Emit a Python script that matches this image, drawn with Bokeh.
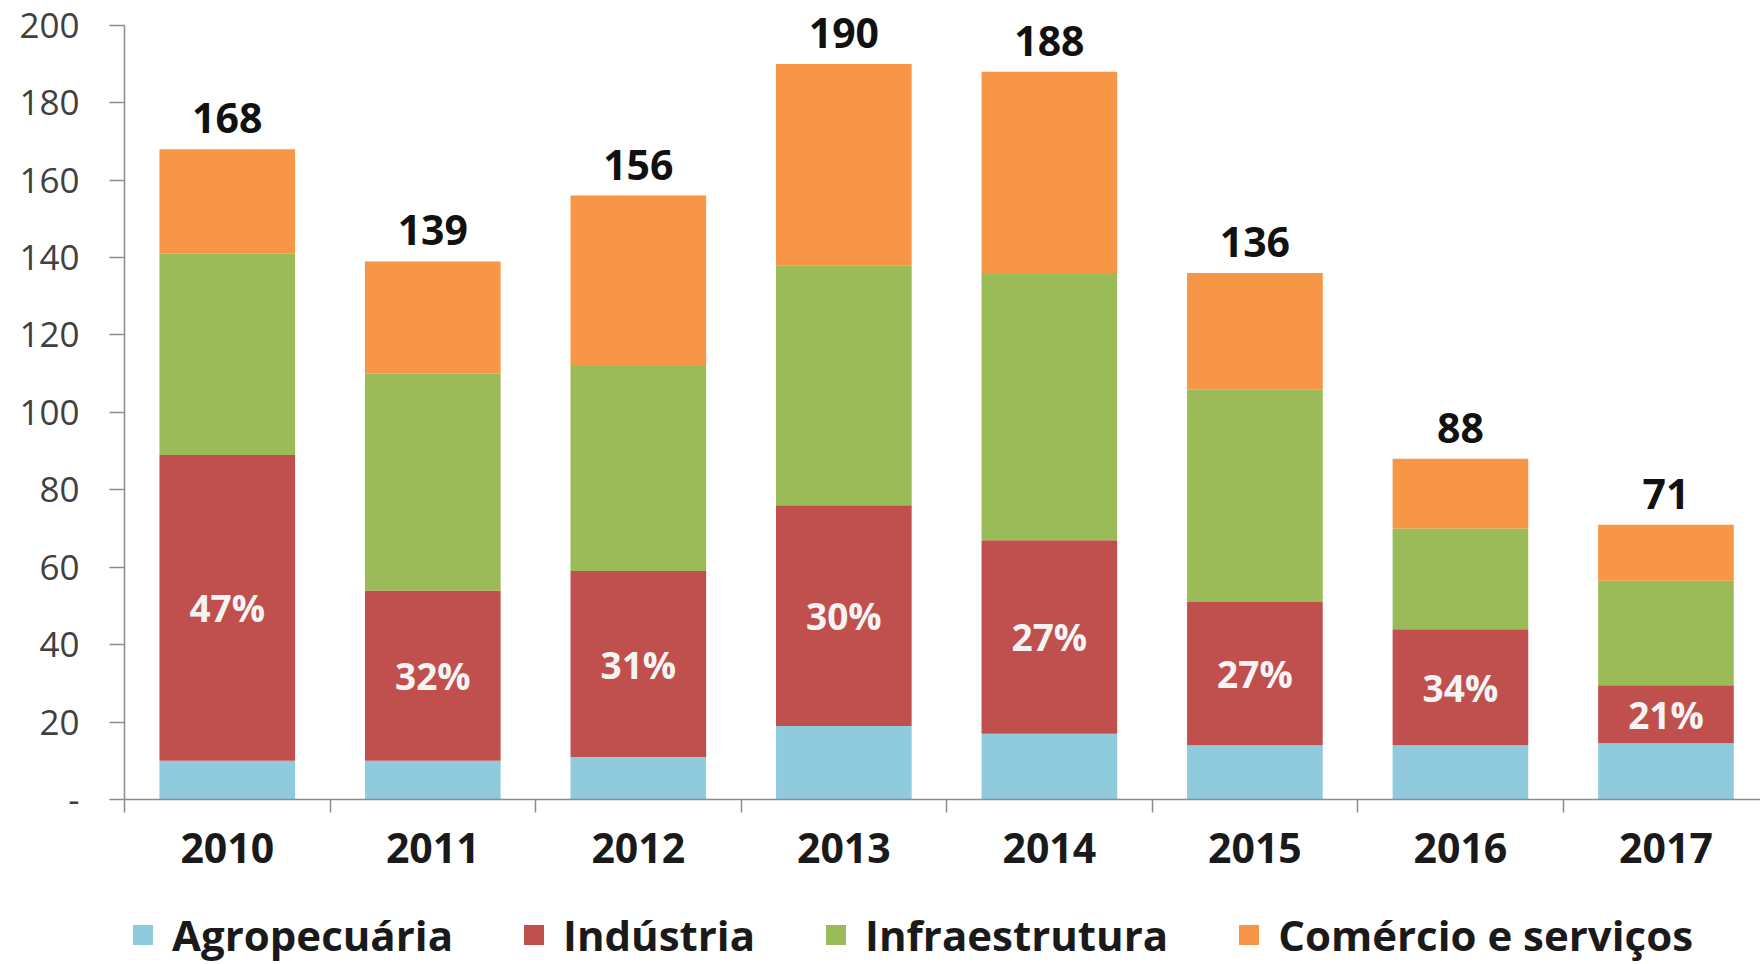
from bokeh.plotting import figure
from bokeh.layouts import column
from bokeh.models import (ColumnDataSource, Range1d, FixedTicker, Legend, LegendItem,
                          CustomJSTickFormatter)
from bokeh.core.properties import value
from bokeh.embed import file_html
from bokeh.resources import INLINE

# ---- data ----
years = ["2010", "2011", "2012", "2013", "2014", "2015", "2016", "2017"]
agropecuaria = [10, 10, 11, 19, 17, 14, 14, 14.5]
industria = [79, 44, 48, 57, 50, 37, 30, 15]
infraestrutura = [52, 56, 53, 62, 69, 55, 26, 27]
comercio = [27, 29, 44, 52, 52, 30, 18, 14.5]
series_keys = ["agro", "ind", "infra", "com"]
series_names = ["Agropecuária", "Indústria", "Infraestrutura", "Comércio e serviços"]
colors = ["#8FCADD", "#C0504D", "#9BBB59", "#F79646"]
y_ticks = [0, 20, 40, 60, 80, 100, 120, 140, 160, 180, 200]

FONT = "Open Sans"
AXIS_GREY = "#8C8C8C"

x_pos = [i + 0.5 for i in range(len(years))]
totals = [a + b + c + d for a, b, c, d in zip(agropecuaria, industria, infraestrutura, comercio)]
total_labels = [str(int(round(t))) for t in totals]
pct_labels = ["%d%%" % round(100.0 * b / t) for b, t in zip(industria, totals)]
pct_y = [a + b / 2.0 for a, b in zip(agropecuaria, industria)]

src = ColumnDataSource(dict(x=x_pos, agro=agropecuaria, ind=industria, infra=infraestrutura,
                            com=comercio, total=totals, total_label=total_labels,
                            pct=pct_labels, pct_y=pct_y))

W = 1760
p = figure(width=W, height=877, x_range=Range1d(0, 7.96), y_range=Range1d(0, 206.4),
           output_backend="svg", toolbar_location=None,
           min_border_left=124, min_border_right=0, min_border_top=0, min_border_bottom=78)
p.outline_line_color = None
p.grid.grid_line_color = None
p.background_fill_color = "white"

renderers = p.vbar_stack(series_keys, x="x", width=0.66, source=src,
                         fill_color=colors, line_color=None)

# totals above bars
p.text(x="x", y="total", text="total_label", source=src, text_align="center",
       text_baseline="alphabetic", y_offset=-31, text_font=value(FONT),
       text_font_size="41px", text_font_style="bold", text_color="#111111")

# industry share labels
p.text(x="x", y="pct_y", text="pct", source=src, text_align="center",
       text_baseline="middle", text_font=value(FONT), text_font_size="37px",
       text_font_style="bold", text_color="#F4F4F4")

# y axis
ya = p.yaxis[0]
ya.ticker = FixedTicker(ticks=y_ticks)
ya.bounds = (0, 200)
ya.formatter = CustomJSTickFormatter(code="return tick == 0 ? '-' : tick.toFixed(0);")
ya.major_tick_out = 15
ya.major_tick_in = 0
ya.minor_tick_line_color = None
ya.major_label_standoff = 30
ya.major_label_text_font = FONT
ya.major_label_text_font_size = "35px"
ya.major_label_text_color = "#404040"
ya.axis_line_color = AXIS_GREY
ya.axis_line_width = 1.5
ya.major_tick_line_color = AXIS_GREY
ya.major_tick_line_width = 1.5

# x axis: labels at bar centres, tick marks at category boundaries
xa = p.xaxis[0]
xa.ticker = FixedTicker(ticks=x_pos, minor_ticks=list(range(len(years) + 1)))
xa.formatter = CustomJSTickFormatter(args=dict(labels=years),
                                     code="return labels[Math.floor(tick)];")
xa.major_tick_line_color = None
xa.major_tick_out = 0
xa.major_tick_in = 0
xa.minor_tick_out = 13
xa.minor_tick_in = 0
xa.minor_tick_line_color = AXIS_GREY
xa.minor_tick_line_width = 1.5
xa.axis_line_color = AXIS_GREY
xa.axis_line_width = 1.5
xa.major_label_standoff = 20
xa.major_label_text_font = FONT
xa.major_label_text_font_size = "41px"
xa.major_label_text_font_style = "bold"
xa.major_label_text_color = "#1A1A1A"

# legend strip below the chart (swatch renderers sit below the visible range)
leg = figure(width=W, height=86, x_range=Range1d(0, 1), y_range=Range1d(0, 1),
             output_backend="svg", toolbar_location=None,
             x_axis_location=None, y_axis_location=None,
             min_border_left=0, min_border_right=0, min_border_top=0, min_border_bottom=0)
leg.outline_line_color = None
leg.grid.grid_line_color = None
leg.background_fill_color = "white"
leg.border_fill_color = "white"
leg_renderers = [leg.vbar(x=[0.5], top=[-10], bottom=[-11], width=0.1, fill_color=c, line_color=None)
                 for c in colors]
legend = Legend(items=[LegendItem(label=n, renderers=[r]) for n, r in zip(series_names, leg_renderers)],
                orientation="horizontal", location=(6, 0),
                label_text_font=FONT, label_text_font_size="42px",
                label_text_font_style="bold", label_text_color="#1A1A1A",
                glyph_width=25, glyph_height=25, label_standoff=17, spacing=68,
                padding=0, margin=0, border_line_color=None, background_fill_alpha=0)
leg.add_layout(legend)

layout = column(p, leg, spacing=0)
open("out.html", "w").write(file_html(layout, INLINE))
